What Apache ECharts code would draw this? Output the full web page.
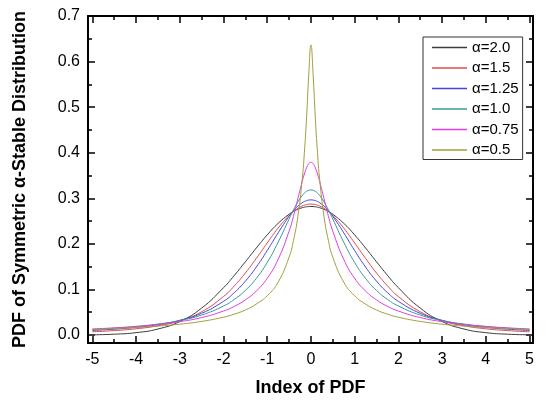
<!DOCTYPE html>
<html>
<head>
<meta charset="utf-8">
<script src="https://cdn.jsdelivr.net/npm/echarts@6/dist/echarts.min.js"></script>
<style>
html, body { margin: 0; padding: 0; background: #fff; }
#chart { width: 546px; height: 402px; }
</style>
</head>
<body>
<div id="chart"></div>
<script>
// x positions where the curves were read
var xs = [-5, -4.5, -4, -3.5, -3, -2.5, -2, -1.75, -1.5, -1.25, -1, -0.75, -0.5, -0.4, -0.3, -0.2, -0.15, -0.1, -0.05,
          0, 0.05, 0.1, 0.15, 0.2, 0.3, 0.4, 0.5, 0.75, 1, 1.25, 1.5, 1.75, 2, 2.5, 3, 3.5, 4, 4.5, 5];

// pdf values, one array per alpha
var a20 = [0.0005, 0.0018, 0.0052, 0.0132, 0.0297, 0.0591, 0.1038, 0.1312, 0.1607, 0.1909, 0.2197, 0.2451, 0.2650, 0.2710, 0.2758, 0.2793, 0.2805, 0.2814, 0.2819,
           0.2821, 0.2819, 0.2814, 0.2805, 0.2793, 0.2758, 0.2710, 0.2650, 0.2451, 0.2197, 0.1909, 0.1607, 0.1312, 0.1038, 0.0591, 0.0297, 0.0132, 0.0052, 0.0018, 0.0005];
var a15 = [0.0071, 0.0097, 0.0137, 0.0203, 0.0314, 0.0511, 0.0845, 0.1080, 0.1361, 0.1681, 0.2020, 0.2347, 0.2623, 0.2710, 0.2780, 0.2832, 0.2850, 0.2863, 0.2871,
           0.2873, 0.2871, 0.2863, 0.2850, 0.2832, 0.2780, 0.2710, 0.2623, 0.2347, 0.2020, 0.1681, 0.1361, 0.1080, 0.0845, 0.0511, 0.0314, 0.0203, 0.0137, 0.0097, 0.0071];
var a125 = [0.0100, 0.0128, 0.0168, 0.0228, 0.0323, 0.0477, 0.0739, 0.0933, 0.1182, 0.1491, 0.1854, 0.2243, 0.2606, 0.2727, 0.2827, 0.2902, 0.2929, 0.2949, 0.2961,
            0.2965, 0.2961, 0.2949, 0.2929, 0.2902, 0.2827, 0.2727, 0.2606, 0.2243, 0.1854, 0.1491, 0.1182, 0.0933, 0.0739, 0.0477, 0.0323, 0.0228, 0.0168, 0.0128, 0.0100];
var a10 = [0.0122, 0.0150, 0.0187, 0.0241, 0.0318, 0.0439, 0.0637, 0.0784, 0.0979, 0.1242, 0.1592, 0.2037, 0.2546, 0.2744, 0.2920, 0.3061, 0.3113, 0.3152, 0.3175,
           0.3183, 0.3175, 0.3152, 0.3113, 0.3061, 0.2920, 0.2744, 0.2546, 0.2037, 0.1592, 0.1242, 0.0979, 0.0784, 0.0637, 0.0439, 0.0318, 0.0241, 0.0187, 0.0150, 0.0122];
var a075 = [0.0133, 0.0157, 0.0189, 0.0232, 0.0293, 0.0384, 0.0526, 0.0630, 0.0771, 0.0965, 0.1245, 0.1662, 0.2278, 0.2605, 0.2990, 0.3367, 0.3534, 0.3669, 0.3759,
            0.3790, 0.3759, 0.3669, 0.3534, 0.3367, 0.2990, 0.2605, 0.2278, 0.1662, 0.1245, 0.0965, 0.0771, 0.0630, 0.0526, 0.0384, 0.0293, 0.0232, 0.0189, 0.0157, 0.0133];
var a05 = [0.0123, 0.0142, 0.0165, 0.0196, 0.0238, 0.0299, 0.0391, 0.0459, 0.0549, 0.0679, 0.0861, 0.1161, 0.1708, 0.2071, 0.2597, 0.3412, 0.4002, 0.4771, 0.5710,
           0.6366, 0.5710, 0.4771, 0.4002, 0.3412, 0.2597, 0.2071, 0.1708, 0.1161, 0.0861, 0.0679, 0.0549, 0.0459, 0.0391, 0.0299, 0.0238, 0.0196, 0.0165, 0.0142, 0.0123];

var names = ['α=2.0', 'α=1.5', 'α=1.25', 'α=1.0', 'α=0.75', 'α=0.5'];

// tick positions
var xMajor = [-5, -4, -3, -2, -1, 0, 1, 2, 3, 4, 5];
var xMinor = [-4.5, -3.5, -2.5, -1.5, -0.5, 0.5, 1.5, 2.5, 3.5, 4.5];
var yMajor = [0, 0.1, 0.2, 0.3, 0.4, 0.5, 0.6, 0.7];
var yMinor = [0.05, 0.15, 0.25, 0.35, 0.45, 0.55, 0.65];

var curves = [a20, a15, a125, a10, a075, a05];
var colors = ['#3c3c3c', '#e34848', '#4646dc', '#3a9898', '#e03ce0', '#a0a03c'];

var font = 'Arial, "Liberation Sans", sans-serif';
var xMin = -5.1, xMax = 5.08, yMin = -0.0175, yMax = 0.7;

function axis(dir, pos, ticks, len, main) {
    return {
        type: 'value',
        position: pos,
        min: dir === 'x' ? xMin : yMin,
        max: dir === 'x' ? xMax : yMax,
        axisLine: { show: main, onZero: false, lineStyle: { color: '#000', width: 2 } },
        axisTick: { show: true, inside: true, length: len, customValues: ticks,
                    lineStyle: { color: '#000', width: 1.5 } },
        axisLabel: { show: false },
        splitLine: { show: false }
    };
}

var xAxes = [
    axis('x', 'bottom', xMajor, 7, true),
    axis('x', 'bottom', xMinor, 4, false),
    axis('x', 'top', xMajor, 7, true),
    axis('x', 'top', xMinor, 4, false)
];
xAxes[0].axisLabel = {
    show: true, customValues: xMajor, margin: 9,
    fontFamily: font, fontSize: 16, color: '#000',
    formatter: function (v) { return String(v); }
};
xAxes[0].name = 'Index of PDF';
xAxes[0].nameLocation = 'middle';
xAxes[0].nameGap = 36;
xAxes[0].nameTextStyle = { fontFamily: font, fontSize: 18, fontWeight: 'bold', color: '#000' };

var yAxes = [
    axis('y', 'left', yMajor, 7, true),
    axis('y', 'left', yMinor, 4, false),
    axis('y', 'right', yMajor, 7, true),
    axis('y', 'right', yMinor, 4, false)
];
yAxes[0].axisLabel = {
    show: true, customValues: yMajor, margin: 8,
    fontFamily: font, fontSize: 16, color: '#000',
    formatter: function (v) { return v.toFixed(1); }
};
yAxes[0].name = 'PDF of Symmetric α-Stable Distribution';
yAxes[0].nameLocation = 'middle';
yAxes[0].nameGap = 59;
yAxes[0].nameTextStyle = { fontFamily: font, fontSize: 18, fontWeight: 'bold', color: '#000' };

var series = curves.map(function (ys, k) {
    return {
        name: names[k],
        type: 'line',
        xAxisIndex: 0,
        yAxisIndex: 0,
        smooth: true,
        symbol: 'none',
        lineStyle: { color: colors[k], width: 1 },
        itemStyle: { color: colors[k] },
        data: xs.map(function (x, i) { return [x, ys[i]]; })
    };
});

var chart = echarts.init(document.getElementById('chart'));
chart.setOption({
    animation: false,
    backgroundColor: '#fff',
    grid: { left: 88, top: 16, width: 445, height: 327, containLabel: false, outerBoundsMode: 'none' },
    legend: {
        orient: 'vertical',
        left: 423,
        top: 37,
        padding: [3, 4, 2, 9],
        icon: 'rect',
        itemWidth: 35,
        itemHeight: 1.3,
        itemGap: 5.5,
        borderColor: '#333',
        borderWidth: 1,
        textStyle: { fontFamily: font, fontSize: 15, color: '#000' },
        data: names
    },
    xAxis: xAxes,
    yAxis: yAxes,
    series: series
});
</script>
</body>
</html>
